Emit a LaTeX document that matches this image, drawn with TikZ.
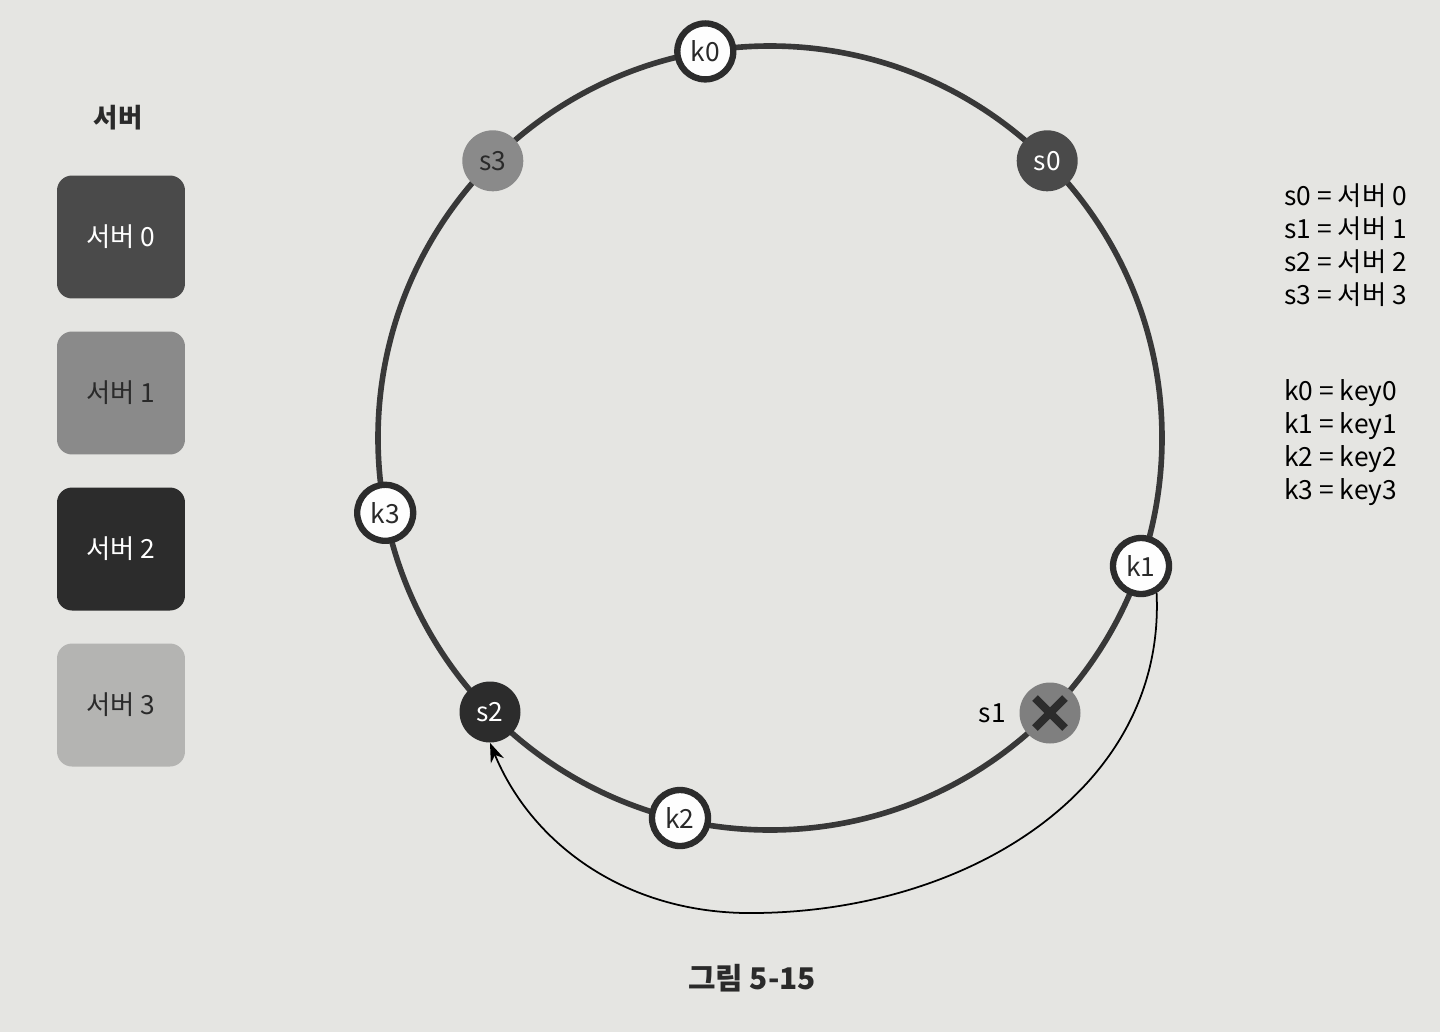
\documentclass[tikz,border=0pt]{standalone}
\usepackage{fontspec}
\setmainfont{Noto Sans CJK KR}
\usetikzlibrary{arrows.meta}
\definecolor{paper}{HTML}{E5E5E2}
\definecolor{ringc}{HTML}{383838}
\definecolor{sa}{HTML}{4A4A4A}
\definecolor{sb}{HTML}{8A8A8A}
\definecolor{sc}{HTML}{2C2C2C}
\definecolor{sd}{HTML}{B4B4B2}
\definecolor{txt}{HTML}{2A2A2A}
\tikzset{
  ring/.style={draw=ringc, line width=3.2pt},
  knode/.style={circle, draw=sc, line width=3.6pt, fill=white!96!paper, minimum size=1.12cm, inner sep=0pt, font=\fontsize{15}{18}\selectfont, text=txt},
  snode/.style={circle, minimum size=1.22cm, inner sep=0pt, font=\fontsize{15}{18}\selectfont},
  lbox/.style={rounded corners=0.3cm, minimum width=2.56cm, minimum height=2.46cm, inner sep=0pt, font=\fontsize{15}{18}\selectfont},
  legend/.style={anchor=west, font=\fontsize{15}{18}\selectfont, text=black, inner sep=0pt},
  move/.style={draw=black, line width=1pt, -{Stealth[length=11pt,width=8pt]}}
}
\begin{document}
\begin{tikzpicture}[x=0.02cm, y=-0.02cm]
\useasboundingbox (0,0) rectangle (1440,1032);
\fill[paper] (0,0) rectangle (1440,1032);
% legend boxes
\node[font=\bfseries\fontsize{15}{18}\selectfont, text=txt] (ltitle) at (118,118) {서버};
\node[lbox, fill=sa, text=white] (b0) at (121,237) {서버 0};
\node[lbox, fill=sb, text=txt] (b1) at (121,393) {서버 1};
\node[lbox, fill=sc, text=white] (b2) at (121,549) {서버 2};
\node[lbox, fill=sd, text=txt] (b3) at (121,705) {서버 3};
% ring
\coordinate (c) at (770,438);
\draw[ring] (c) circle [radius=392];
% servers
\node[snode, fill=sa, text=white] (s0) at (1047.2,160.8) {s0};
\node[snode, fill=sb, text=txt] (s3) at (492.8,160.8) {s3};
\node[snode, fill=sc, text=white] (s2) at (490,712) {s2};
\node[snode, fill=sb!92!black] (s1) at (1050,713) {};
\draw[sc, line width=4.6pt] ([shift={(-15,-15)}]s1.center) -- ([shift={(15,15)}]s1.center);
\draw[sc, line width=4.6pt] ([shift={(-15,15)}]s1.center) -- ([shift={(15,-15)}]s1.center);
\node[font=\fontsize{15}{18}\selectfont, text=black, anchor=east] (s1l) at (1012,713) {s1};
% keys
\node[knode] (k0) at (705.3,51.4) {k0};
\node[knode] (k3) at (385.2,512.8) {k3};
\node[knode] (k1) at (1141,566) {k1};
\node[knode] (k2) at (680,818) {k2};
% move arrow
\draw[move] (k1.-60) .. controls (1166,790) and (965,915) .. (745,913)
  .. controls (620,911) and (530,840) .. (s2.south);
% legend text
\node[legend] (l0) at (1284,196) {s0 = 서버 0};
\node[legend] (l1) at (1284,229) {s1 = 서버 1};
\node[legend] (l2) at (1284,262) {s2 = 서버 2};
\node[legend] (l3) at (1284,295) {s3 = 서버 3};
\node[legend] (m0) at (1284,393) {k0 = key0};
\node[legend] (m1) at (1284,426) {k1 = key1};
\node[legend] (m2) at (1284,459) {k2 = key2};
\node[legend] (m3) at (1284,492) {k3 = key3};
% caption
\node[font=\bfseries\fontsize{17}{20}\selectfont, text=txt] (cap) at (752,978) {그림 5-15};
\end{tikzpicture}
\end{document}
